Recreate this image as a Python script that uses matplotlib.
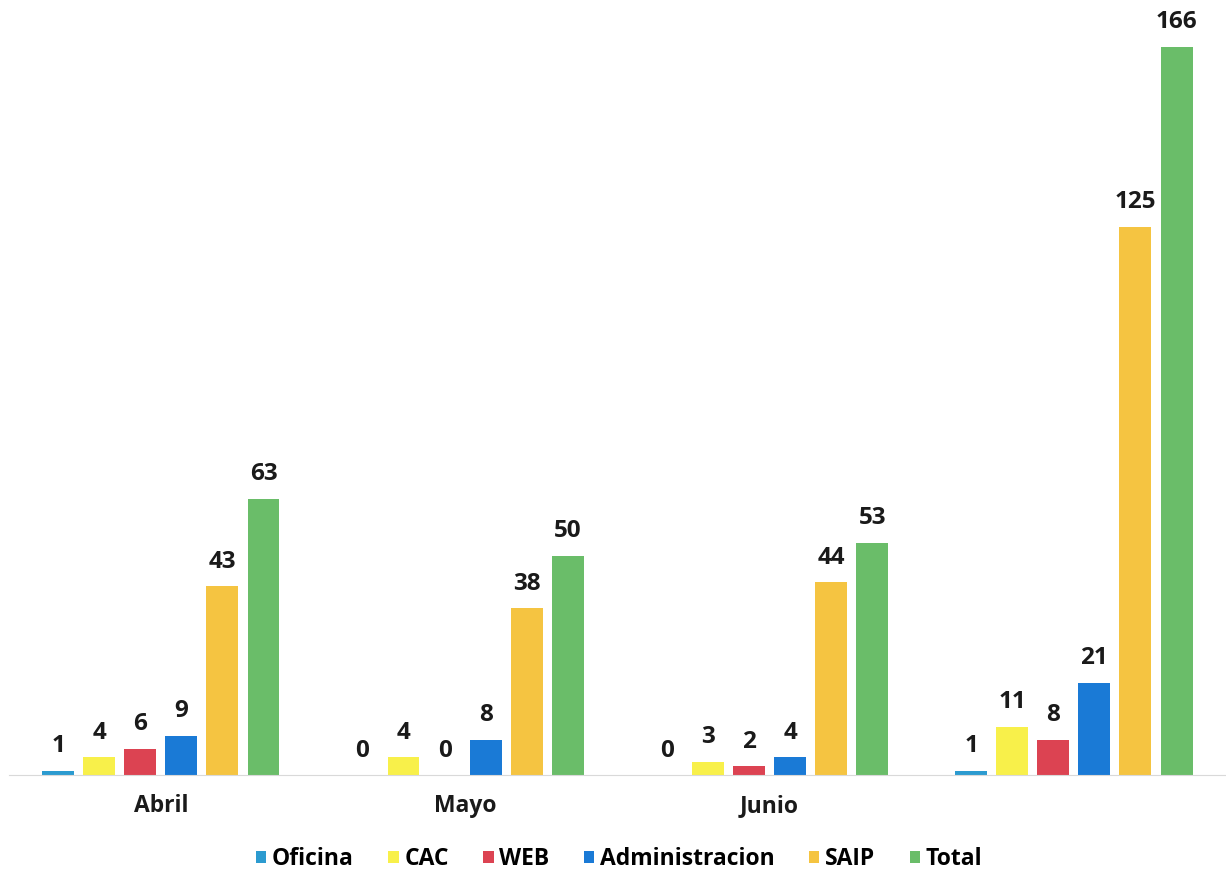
import numpy as np
import matplotlib.pyplot as plt

plt.rcParams['font.family'] = ['Open Sans', 'DejaVu Sans']

categories = ["Abril", "Mayo", "Junio", ""]
series = ["Oficina", "CAC", "WEB", "Administracion", "SAIP", "Total"]
oficina = [1, 0, 0, 1]
cac = [4, 4, 3, 11]
web = [6, 0, 2, 8]
administracion = [9, 8, 4, 21]
saip = [43, 38, 44, 125]
total = [63, 50, 53, 166]
values = [oficina, cac, web, administracion, saip, total]
colors = ["#2C9BD0", "#F8F04A", "#DC4352", "#1A7AD6", "#F5C441", "#6ABD69"]

fig = plt.figure(figsize=(12.26, 8.71), dpi=100)
ax = fig.add_axes([0.007, 0.1102, 0.993, 0.856])

x = np.arange(len(categories))
step = 0.135
width = 0.105
for i, (name, vals, c) in enumerate(zip(series, values, colors)):
    pos = x + (i - 2.5) * step
    bars = ax.bar(pos, vals, width=width, color=c, label=name)
    ax.bar_label(bars, padding=9, fontsize=17.5, fontweight='bold',
                 color='#1a1a1a', clip_on=False)

ax.set_xlim(-0.5, len(categories) - 0.5)
ax.set_ylim(0, 170)
ax.set_xticks(x)
ax.set_xticklabels(categories, fontsize=16.5, fontweight='bold', color='#1a1a1a')
ax.tick_params(axis='x', length=0, pad=14)
ax.set_yticks([])
for s in ['top', 'right', 'left']:
    ax.spines[s].set_visible(False)
ax.spines['bottom'].set_color('#d9d9d9')

fig.legend(loc='lower center', bbox_to_anchor=(0.505, -0.024), ncol=6, frameon=False,
           handlelength=0.45, handleheight=0.45, handletextpad=0.25,
           columnspacing=1.5, prop={'weight': 'bold', 'size': 16.5})

fig.savefig("out.png", dpi=100)
